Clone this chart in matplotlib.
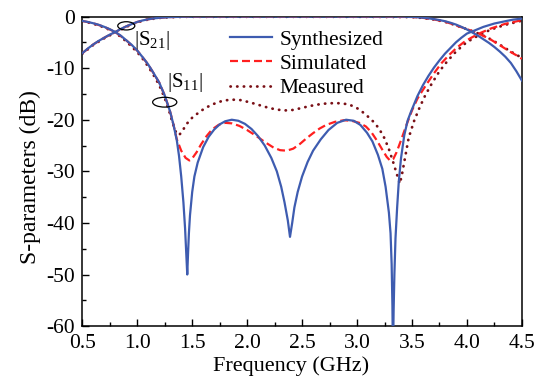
import matplotlib
matplotlib.use("Agg")
import matplotlib.pyplot as plt
from matplotlib.patches import Ellipse

plt.rcParams['font.family'] = ['Liberation Serif', 'DejaVu Serif']
plt.rcParams['mathtext.fontset'] = 'custom'
plt.rcParams['mathtext.rm'] = 'Liberation Serif'
plt.rcParams['mathtext.it'] = 'Liberation Serif:italic'
plt.rcParams['axes.unicode_minus'] = False

# Synthesized |S11|
syn_s11_f = [0.5, 0.55, 0.6, 0.65, 0.7, 0.75, 0.8, 0.85, 0.9, 0.95, 1.0, 1.05, 1.1, 1.15, 1.2, 1.25,
             1.3, 1.33, 1.36, 1.38, 1.4, 1.42, 1.435, 1.445, 1.455, 1.462, 1.47, 1.48, 1.5, 1.52,
             1.55, 1.6, 1.65, 1.7, 1.75, 1.8, 1.86, 1.92, 1.98, 2.04, 2.1, 2.16, 2.22, 2.27, 2.31,
             2.34, 2.37, 2.39, 2.41, 2.43, 2.46, 2.5, 2.55, 2.6, 2.67, 2.74, 2.82, 2.9, 2.97, 3.03,
             3.09, 3.14, 3.19, 3.23, 3.26, 3.29, 3.305, 3.315, 3.322, 3.327, 3.333, 3.34, 3.35,
             3.365, 3.38, 3.4, 3.43, 3.46, 3.49, 3.55, 3.6, 3.65, 3.7, 3.75, 3.8, 3.85, 3.9, 3.95,
             4.0, 4.07, 4.15, 4.25, 4.35, 4.42, 4.5]
syn_s11 = [-0.85, -1.05, -1.3, -1.6, -2.0, -2.45, -3.0, -3.7, -4.6, -5.5, -6.6, -7.9, -9.3, -11.0,
           -12.8, -15.3, -18.5, -21, -24, -27, -31, -36, -41, -45.5, -50, -46, -42, -38.5, -34, -31,
           -28.3, -25.3, -23.3, -21.9, -20.9, -20.3, -20.0, -20.2, -20.8, -21.8, -23.2, -25.0, -27.4,
           -30, -33, -36, -39.5, -42.7, -40, -37, -34, -31, -28.2, -26, -23.8, -22, -20.6, -20.0,
           -20.2, -21, -22.5, -24.2, -26.8, -29.5, -33, -38, -42, -48, -56, -66, -57, -50, -43,
           -37, -32, -27.5, -23, -20.2, -18.5, -15.4, -13.3, -11.5, -9.9, -8.5, -7.2, -6.1, -5.0,
           -4.1, -3.3, -2.7, -2.0, -1.35, -0.9, -0.6, -0.4]

# Synthesized |S21|
syn_s21_f = [0.5, 0.55, 0.6, 0.65, 0.7, 0.75, 0.8, 0.85, 0.9, 0.95, 1.0, 1.05, 1.1, 1.15, 1.2, 1.3,
             1.4, 1.5, 2.0, 3.0, 3.4, 3.5, 3.55, 3.6, 3.65, 3.7, 3.75, 3.8, 3.85, 3.9, 3.95, 4.0,
             4.05, 4.1, 4.15, 4.2, 4.25, 4.3, 4.35, 4.4, 4.45, 4.5]
syn_s21 = [-7.1, -6.2, -5.4, -4.7, -4.1, -3.5, -3.0, -2.4, -1.9, -1.45, -1.05, -0.75, -0.52, -0.36,
           -0.24, -0.1, -0.04, -0.01, 0, 0, -0.01, -0.06, -0.13, -0.22, -0.34, -0.5, -0.68, -0.9,
           -1.2, -1.55, -2.0, -2.5, -3.1, -3.7, -4.4, -5.1, -5.9, -6.8, -7.8, -9.0, -10.6, -12.4]

# Simulated |S11|
sim_s11_f = [0.5, 0.6, 0.7, 0.8, 0.9, 1.0, 1.1, 1.2, 1.25, 1.3, 1.33, 1.36, 1.4, 1.44, 1.475, 1.5,
             1.54, 1.58, 1.63, 1.68, 1.74, 1.8, 1.86, 1.93, 2.0, 2.08, 2.16, 2.24, 2.3, 2.36, 2.42,
             2.48, 2.54, 2.6, 2.66, 2.72, 2.8, 2.88, 2.95, 3.02, 3.08, 3.13, 3.18, 3.23, 3.27, 3.3,
             3.33, 3.36, 3.4, 3.45, 3.5, 3.55, 3.6, 3.64, 3.7, 3.77, 3.84, 3.91, 3.97, 4.04, 4.12,
             4.22, 4.35, 4.5]
sim_s11 = [-0.85, -1.3, -2.0, -3.0, -4.6, -6.6, -9.3, -12.8, -15.3, -18.5, -21, -23.8, -26, -27.4,
           -27.9, -27.5, -26.3, -24.8, -23.2, -21.9, -21.0, -20.6, -20.7, -21.2, -22.0, -23.1, -24.3,
           -25.4, -25.9, -26.0, -25.6, -24.7, -23.6, -22.6, -21.7, -21.0, -20.4, -20.1, -20.2, -20.6,
           -21.3, -22.4, -24, -25.8, -27.2, -27.9, -27.6, -26.3, -24, -21, -18.2, -15.9, -14.2, -12.9,
           -11.0, -9.0, -7.4, -6.0, -5.0, -4.1, -3.2, -2.3, -1.4, -0.7]

# Simulated |S21|
sim_s21_f = [0.5, 0.6, 0.7, 0.8, 0.9, 1.0, 1.1, 1.2, 1.3, 1.45, 2.0, 3.0, 3.5, 3.6, 3.7, 3.8,
             3.86, 3.92, 3.98, 4.04, 4.1, 4.16, 4.22, 4.28, 4.34, 4.4, 4.45, 4.5]
sim_s21 = [-7.1, -5.4, -4.1, -3.0, -1.9, -1.05, -0.52, -0.24, -0.1, -0.03, -0.02, -0.02, -0.08,
           -0.25, -0.55, -1.0, -1.4, -1.85, -2.3, -2.75, -3.25, -3.85, -4.5, -5.3, -6.1, -6.9, -7.5,
           -8.2]

# Measured |S11|
mea_s11_f = [0.5, 0.6, 0.7, 0.8, 0.9, 1.0, 1.05, 1.1, 1.15, 1.2, 1.25, 1.29, 1.32, 1.35, 1.38, 1.41,
             1.45, 1.5, 1.56, 1.62, 1.7, 1.78, 1.86, 1.94, 2.02, 2.1, 2.18, 2.26, 2.34, 2.42, 2.5,
             2.58, 2.66, 2.74, 2.84, 2.92, 2.99, 3.05, 3.1, 3.15, 3.2, 3.25, 3.29, 3.33, 3.36, 3.39,
             3.41, 3.44, 3.47, 3.52, 3.57, 3.62, 3.68, 3.75, 3.82, 3.9, 3.98, 4.05, 4.14, 4.22, 4.35,
             4.5]
mea_s11 = [-0.85, -1.4, -2.1, -3.1, -4.8, -6.9, -8.2, -9.7, -11.4, -13.3, -15.8, -18.3, -20.5,
           -22.3, -23.0, -22.2, -20.8, -19.6, -18.6, -17.7, -16.9, -16.3, -16.1, -16.2, -16.6, -17.1,
           -17.6, -18.0, -18.2, -18.1, -17.7, -17.3, -17.0, -16.8, -16.8, -17.0, -17.6, -18.5, -19.4,
           -20.4, -21.7, -23.6, -25.7, -28.3, -30.4, -32.4, -30.5, -27, -23.5, -20.2, -17.6, -15.3,
           -13, -10.6, -8.7, -6.8, -5.3, -4.3, -3.3, -2.5, -1.6, -0.8]

# Measured |S21|
mea_s21_f = [0.5, 0.6, 0.7, 0.8, 0.9, 1.0, 1.1, 1.2, 1.3, 1.45, 2.0, 3.0, 3.5, 3.6, 3.7, 3.8,
             3.86, 3.92, 3.98, 4.04, 4.1, 4.16, 4.22, 4.28, 4.34, 4.4, 4.45, 4.5]
mea_s21 = [-7.2, -5.5, -4.2, -3.1, -2.0, -1.1, -0.56, -0.27, -0.12, -0.05, -0.05, -0.05, -0.1,
           -0.28, -0.58, -1.02, -1.42, -1.85, -2.3, -2.75, -3.25, -3.8, -4.45, -5.2, -6.0, -6.8,
           -7.4, -8.0]

x_ticks = [0.5, 1.0, 1.5, 2.0, 2.5, 3.0, 3.5, 4.0, 4.5]
y_ticks = [-60, -50, -40, -30, -20, -10, 0]

blue = '#3E5CB0'
red = '#FF1F1F'
dark = '#7A1016'

fig = plt.figure(figsize=(5.38, 3.85), dpi=100)
ax = fig.add_axes([0.153, 0.153, 0.817, 0.804])

dots = (0, (0.1, 2.3))
dash = (0, (3.6, 1.8))

ax.plot(mea_s11_f, mea_s11, color=dark, lw=2.0, linestyle=dots, dash_capstyle='round', label='Measured', zorder=2)
ax.plot(mea_s21_f, mea_s21, color=dark, lw=2.0, linestyle=dots, dash_capstyle='round', zorder=2)
ax.plot(sim_s11_f, sim_s11, color=red, lw=1.6, linestyle=dash, label='Simulated', zorder=3)
ax.plot(sim_s21_f, sim_s21, color=red, lw=1.6, linestyle=dash, zorder=3)
ax.plot(syn_s11_f, syn_s11, color=blue, lw=1.6, label='Synthesized', zorder=4)
ax.plot(syn_s21_f, syn_s21, color=blue, lw=1.6, zorder=4)

ax.set_xlim(0.5, 4.5)
ax.set_ylim(-60, 0)
ax.set_xticks(x_ticks)
ax.set_xticklabels([f'{v:.1f}' for v in x_ticks])
ax.set_yticks(y_ticks)
ax.set_xticks([0.75 + 0.5 * i for i in range(8)], minor=True)
ax.set_yticks([-55, -45, -35, -25, -15, -5], minor=True)
ax.tick_params(which='major', direction='in', length=5, width=1, labelsize=15.5)
ax.tick_params(axis='x', which='major', pad=6)
ax.tick_params(axis='y', which='major', pad=5)
ax.tick_params(which='minor', direction='in', length=3, width=1)
for s in ax.spines.values():
    s.set_linewidth(1.1)

ax.set_xlabel('Frequency (GHz)', fontsize=16)
ax.set_ylabel('S-parameters (dB)', fontsize=17)
ax.xaxis.set_label_coords(0.476, -0.097)
ax.yaxis.set_label_coords(-0.094, 0.48)

handles, labels = ax.get_legend_handles_labels()
order = [2, 1, 0]
ax.legend([handles[i] for i in order], [labels[i] for i in order], loc='upper left',
          bbox_to_anchor=(0.336, 0.958), frameon=False, fontsize=15.5, handlelength=1.95,
          handletextpad=0.35, labelspacing=0.2, borderpad=0, borderaxespad=0)

# ellipse markers with labels
ax.add_patch(Ellipse((0.90, -1.8), 0.155, 1.6, fill=False, ec='black', lw=0.9, zorder=5))
ax.add_patch(Ellipse((1.25, -16.6), 0.22, 1.9, fill=False, ec='black', lw=0.9, zorder=5))
ax.text(0.97, -4.6, r'$|\mathrm{S}_{21}|$', fontsize=15, ha='left', va='center')
ax.text(1.27, -12.7, r'$|\mathrm{S}_{11}|$', fontsize=15, ha='left', va='center')

fig.savefig('out.png', dpi=100)
